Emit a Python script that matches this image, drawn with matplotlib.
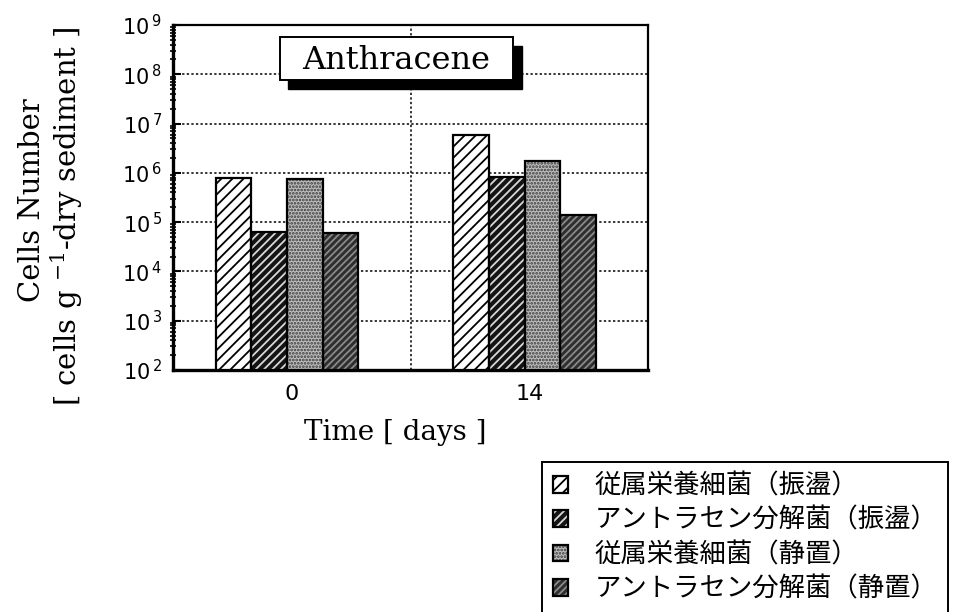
import numpy as np
import matplotlib
matplotlib.use("Agg")
import matplotlib.pyplot as plt
from matplotlib.patches import Rectangle
from matplotlib.legend_handler import HandlerTuple
from matplotlib.ticker import LogLocator, FuncFormatter, NullFormatter

plt.rcParams["hatch.linewidth"] = 1.3

# cell counts, cells per g dry sediment
days = ["0", "14"]
heterotroph_shaken = [7.8e5, 6.0e6]
degrader_shaken = [6.2e4, 8.1e5]
heterotroph_static = [7.5e5, 1.7e6]
degrader_static = [5.9e4, 1.4e5]

series_labels = [
    "従属栄養細菌（振盪）",
    "アントラセン分解菌（振盪）",
    "従属栄養細菌（静置）",
    "アントラセン分解菌（静置）",
]
series_values = [heterotroph_shaken, degrader_shaken, heterotroph_static, degrader_static]

# face colour, hatch pattern, hatch colour
styles = [
    ("white", "///", "black"),
    ("#141414", "////", "#d8d8d8"),
    ("#bdbdbd", ".....", "#3a3a3a"),
    ("#2e2e2e", "/////", "#8a8a8a"),
]

ymin, ymax = 1e2, 1e9

fig = plt.figure(figsize=(9.77, 6.12), dpi=100)
ax = fig.add_axes([173 / 977, 1 - 370 / 612, 475 / 977, 345 / 612])

x = np.arange(len(days))
w = 0.15
handles = []
for i, (vals, (fc, hatch, hc)) in enumerate(zip(series_values, styles)):
    pos = x + (i - 1.5) * w - 0.02
    heights = np.array(vals) - ymin
    fill = ax.bar(pos, heights, w, bottom=ymin, color=fc, hatch=hatch,
                  edgecolor=hc, linewidth=0, zorder=3)
    outline = ax.bar(pos, heights, w, bottom=ymin, facecolor="none",
                     edgecolor="black", linewidth=1.6, zorder=4)
    handles.append((fill[0], outline[0]))

ax.set_yscale("log")
ax.set_ylim(ymin, ymax)
ax.set_xlim(-0.5, 1.5)

ax.yaxis.set_major_locator(LogLocator(base=10, numticks=20))
ax.yaxis.set_minor_locator(LogLocator(base=10, subs=np.arange(2, 10), numticks=20))
ax.yaxis.set_minor_formatter(NullFormatter())
ax.yaxis.set_major_formatter(
    FuncFormatter(lambda v, p: r"$\mathregular{10^{\,%d}}$" % round(np.log10(v))))
ax.tick_params(axis="y", which="major", direction="in", length=6, width=1.5,
               labelsize=15, pad=8)
ax.tick_params(axis="y", which="minor", direction="inout", length=5, width=1.2)

ax.set_xticks(x)
ax.set_xticklabels(days)
ax.tick_params(axis="x", length=0, labelsize=16, pad=10)

for s in ax.spines.values():
    s.set_linewidth(1.6)
ax.spines["left"].set_linewidth(2.4)
ax.spines["bottom"].set_linewidth(2.4)

# dotted decade lines and the divider between the two days
for d in range(3, 9):
    ax.axhline(10.0 ** d, color="black", linestyle=(0, (1.5, 1.5)), linewidth=1.1, zorder=1)
ax.axvline(0.5, color="black", linestyle=(0, (1.5, 1.5)), linewidth=1.1, zorder=1)

# title box with drop shadow
bx0, bx1, by0, by1 = 0.225, 0.716, 0.841, 0.965
ax.add_patch(Rectangle((bx0 + 0.018, by0 - 0.026), bx1 - bx0, by1 - by0,
                       transform=ax.transAxes, facecolor="black", edgecolor="black",
                       zorder=5, clip_on=False))
ax.add_patch(Rectangle((bx0, by0), bx1 - bx0, by1 - by0, transform=ax.transAxes,
                       facecolor="white", edgecolor="black", linewidth=1.4,
                       zorder=6, clip_on=False))
ax.text((bx0 + bx1) / 2, (by0 + by1) / 2 - 0.005, "Anthracene", transform=ax.transAxes,
        ha="center", va="center", fontsize=23, family="DejaVu Serif", zorder=7)

fig.text(32 / 977, 1 - 200 / 612, "Cells Number", rotation=90, ha="center",
         va="center", fontsize=21, family="DejaVu Serif")
fig.text(67 / 977, 1 - 216 / 612, r"[ cells g $\mathregular{^{-1}}$-dry sediment ]",
         rotation=90, ha="center", va="center", fontsize=21, family="DejaVu Serif")
fig.text(395 / 977, 1 - 432 / 612, "Time [ days ]", ha="center", va="center",
         fontsize=20, family="DejaVu Serif")

leg = fig.legend(handles, series_labels, loc="upper left",
                 bbox_to_anchor=(542 / 977, 1 - 462 / 612), borderaxespad=0,
                 handler_map={tuple: HandlerTuple(ndivide=1, pad=0)},
                 prop={"family": ["Noto Sans CJK JP", "DejaVu Sans"], "size": 19},
                 handlelength=0.6, handleheight=0.6, handletextpad=1.0,
                 labelspacing=0.28, borderpad=0.4, fancybox=False,
                 edgecolor="black", framealpha=1)
leg.get_frame().set_linewidth(1.4)

fig.savefig("out.png", dpi=100)
